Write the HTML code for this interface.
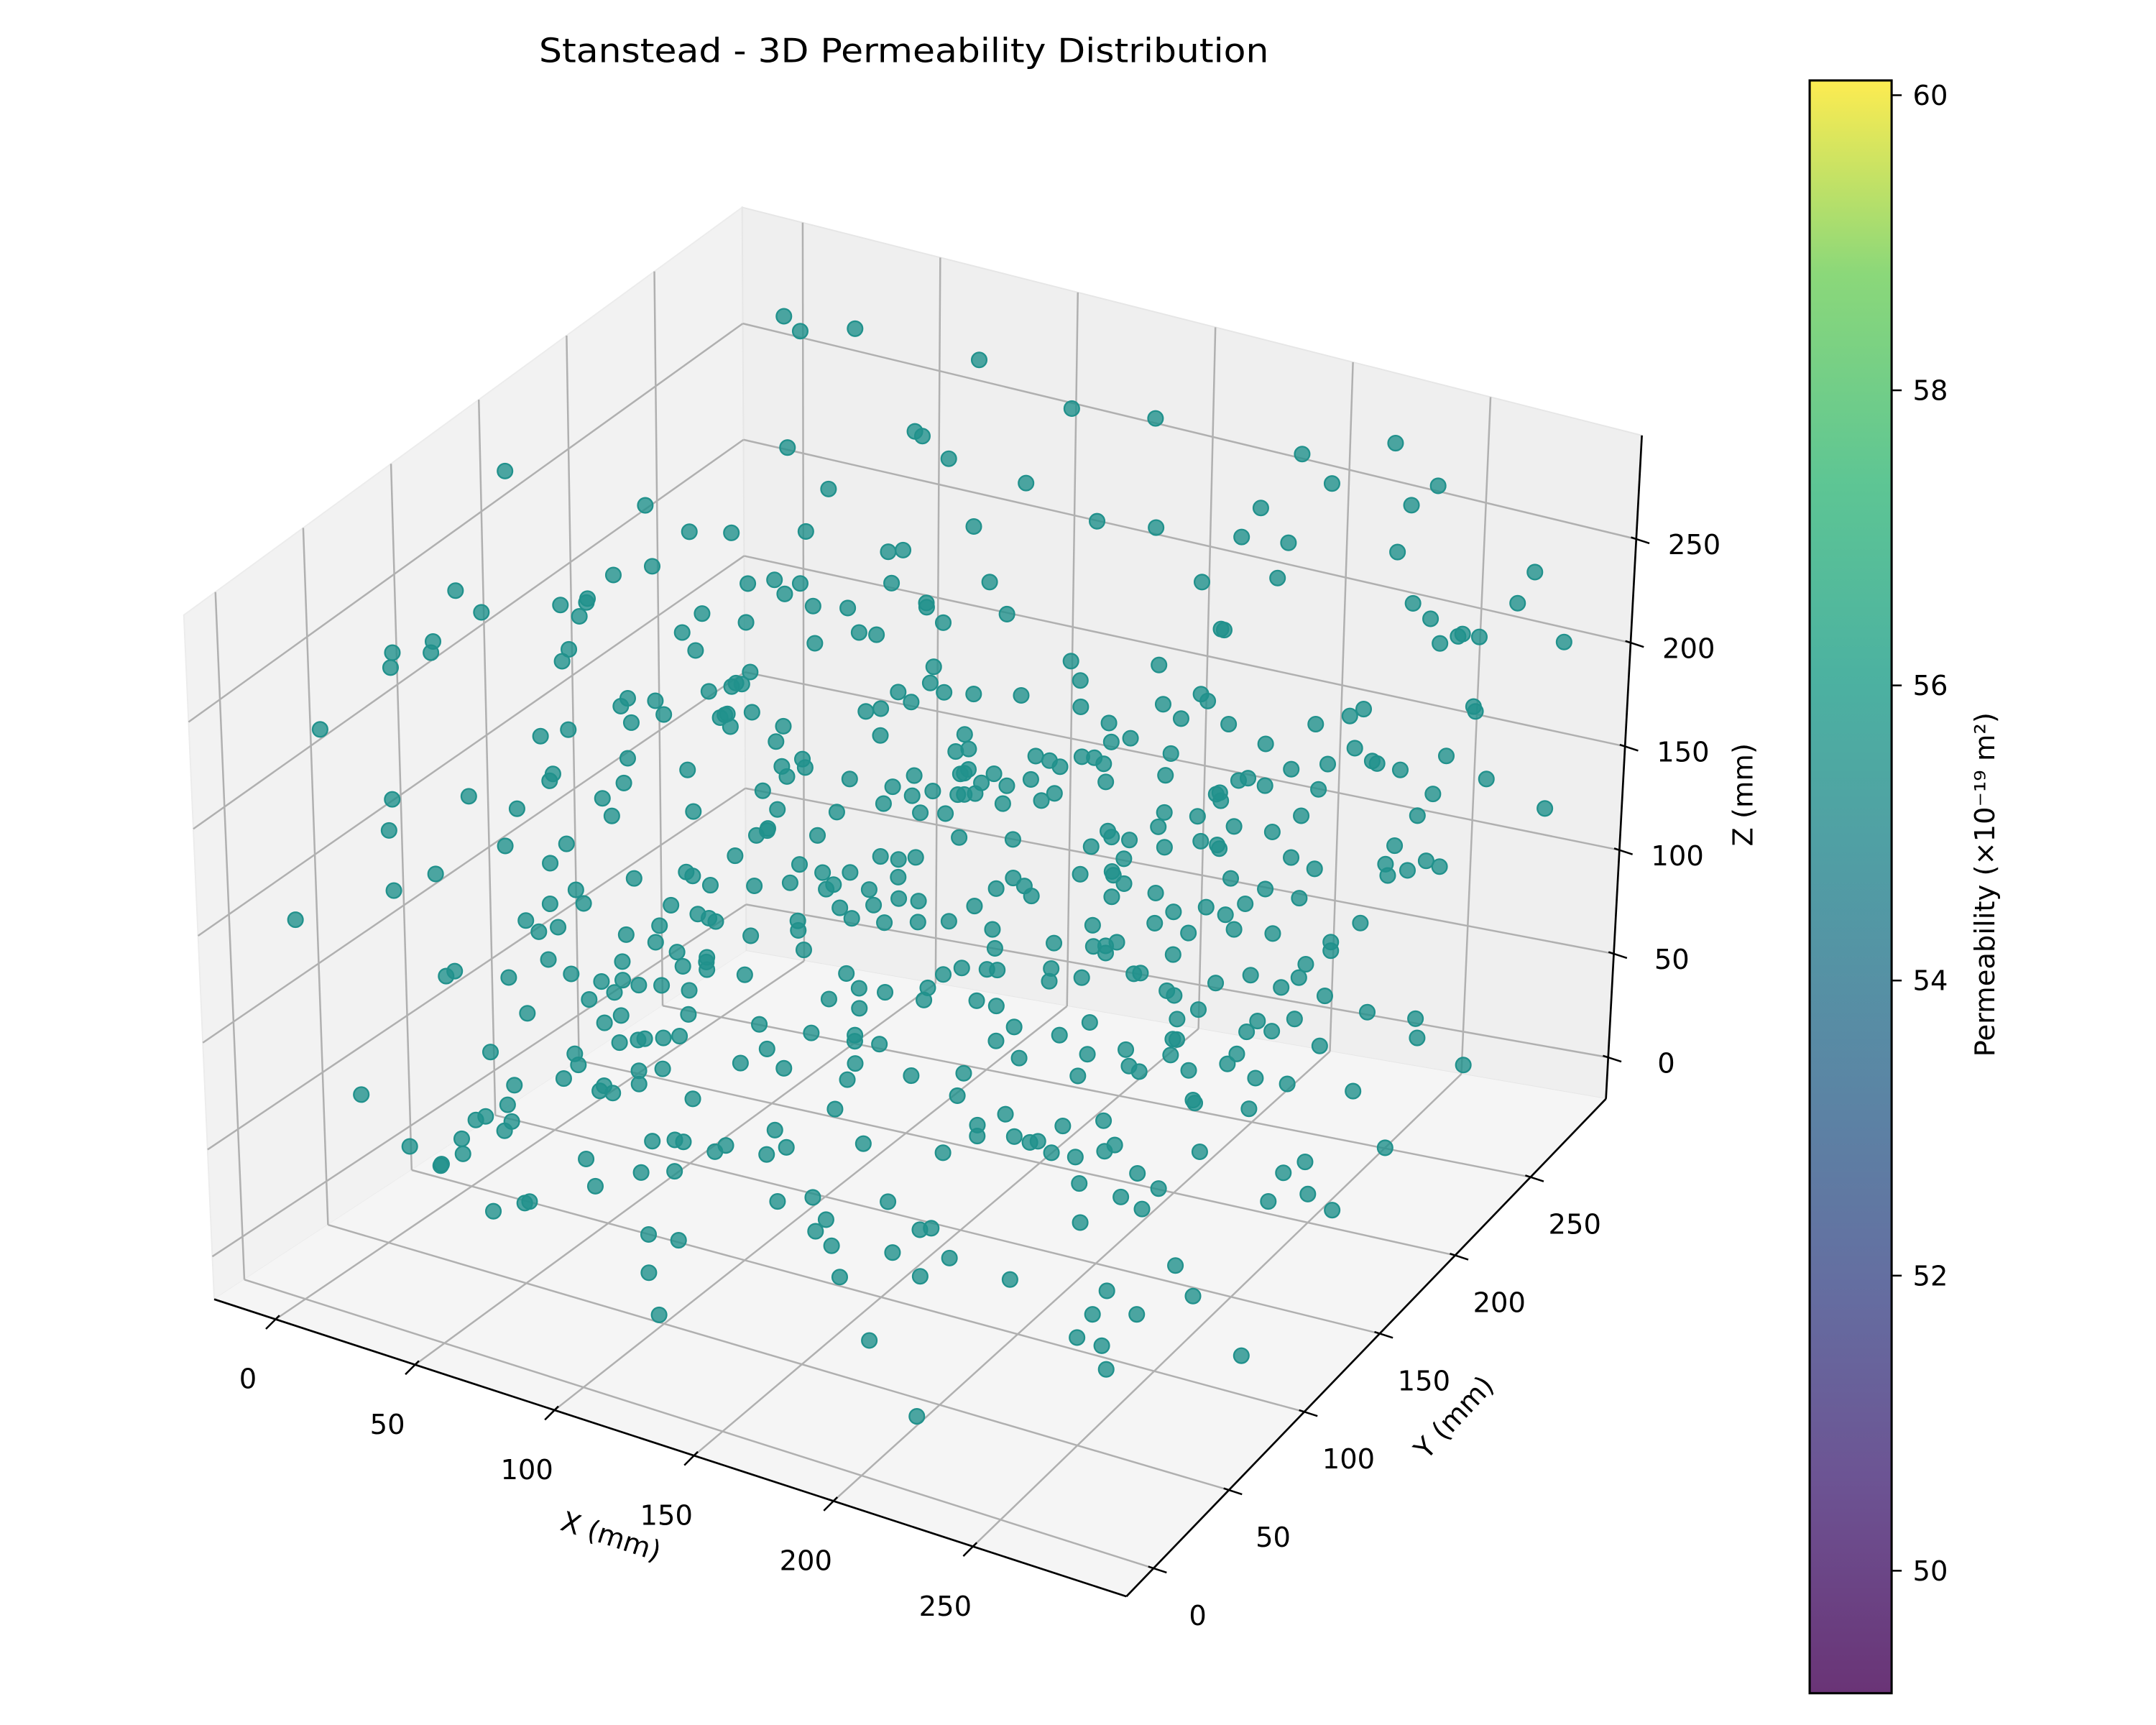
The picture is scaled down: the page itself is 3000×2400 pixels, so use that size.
<!DOCTYPE html>
<html><head><meta charset="utf-8"><style>html,body{margin:0;padding:0;background:#fff}svg{display:block}</style></head>
<body>
<svg id="chart" xmlns="http://www.w3.org/2000/svg" width="3000" height="2400" viewBox="0 0 1560 1248" font-family="DejaVu Sans, Liberation Sans, sans-serif">
<defs>
<linearGradient id="viridis" x1="0" y1="1" x2="0" y2="0">
<stop offset="0" stop-color="#440154"/><stop offset="0.13" stop-color="#482878"/><stop offset="0.25" stop-color="#3e4989"/><stop offset="0.38" stop-color="#31688e"/><stop offset="0.5" stop-color="#26828e"/><stop offset="0.63" stop-color="#1f9e89"/><stop offset="0.75" stop-color="#35b779"/><stop offset="0.88" stop-color="#6ece58"/><stop offset="1" stop-color="#fde725"/>
</linearGradient>
</defs>
<rect width="1560" height="1248" fill="#fff"/>
<text x="654" y="45" font-size="24" text-anchor="middle" textLength="528" lengthAdjust="spacingAndGlyphs">Stanstead - 3D Permeability Distribution</text>
<g id="panes"></g><g id="grid"></g><g id="axes"></g><g id="points"></g>
<g id="colorbar">
<rect x="1309.4" y="58.2" width="59.3" height="1166.8" fill="url(#viridis)" fill-opacity="0.8" stroke="#000" stroke-width="1.6"/>
</g>
<text transform="translate(1443,640) rotate(-90)" font-size="20" text-anchor="middle">Permeability (×10⁻¹⁹ m²)</text>
</svg>
<script>
const xValues = [12,45,88,130,170,210,250,275,30,65,105,145,190,230,268,8,52,95,140,182,225,260,285,20,75,118,160,205,240,280,40,85,125,165,200,245,270,15,60,100,
150,195,235,278,25,70,110,155,215,255,5,48,92,135,178,220,262,288,35,80,122,168,208,248,272,18,58,98,142,188,228,266,42,82,128,172,212,252,282,10,
55,102,148,192,238,276,28,68,112,158,198,242,286,38,78,120,162,202,246,270,22,62,108,152,196,236,274,2,50,90,138,180,222,258,284,32,72,116,160,206,
244,268,14,54,96,144,186,226,264,44,86,132,174,216,256,280,6,46,94,136,176,218,254,290,26,66,106,146,194,232,272,36,76,114,156,204,240,278,16,56,
100,140,184,224,262,288,34,74,118,166,210,250,284,4,64,104,154,190,234,276,24,84,124,170,214,252,282,12,52,90,134,180,220,260,286,40,80,126,164,200,
7,133,261,58,190,99,247,16,174,82,219,141,38,286,113,201,69,155,229,27,
264,91,178,3,122,243,47,160,209,74,288,136,19,196,104,253,61,168,233,11,
147,84,272,33,187,119,215,56,279,97,163,241,22,129,206,71,254,43,181,109,
268,14,151,224,88,197,36,283,126,62,238,173,9,101,259,49,213,137,78,191,
244,29,166,117,274,53,203,142,6,231,93,185,67,257,124,18,199,81,236,154,
41,289,112,177,63,221,1,148,266,86,193,31,249,132,73,211,158,24,281,107,
171,57,234,96,13,202,139,262,45,184,118,76,227,160,34,271,92,189,128,4,
246,68,217,143,26,277,103,164,52,239,87,197,131,17,256,79,208,150,37,285,
115,183,60,223,99,10,269,145,48,194,127,241,70,178,21,258,113,161,39,230,
84,205,137,3,275,94,187,55,248,121,167,30,214,72,263,106,152,8,236,179,
44,289,119,66,200,146,23,255,90,174,35,228,109,62,281,156,12,196,134,243,
77,169,50,221,100,16,265,141,83,207,28,250,125,59,186,233,97,5,273,157,
40,212,111,180,65,284,138,19,226,88,172,52,260,123,9,195,75,242,148,31,
279,104,163,46,218,131,14,253,93,188,58,235,116,25,270,154,82,209,38,287,
143,68,229,101,176,6,261,126,54,198,85,245,160,33,276,112,192,47,220,135];
const yValues = [140,22,260,95,180,35,210,120,270,60,155,5,230,85,195,45,250,110,15,175,
285,70,135,240,25,165,90,220,50,280,125,10,200,75,245,145,30,190,100,265,
55,170,215,40,130,255,80,185,20,235,105,160,65,290,145,0,205,115,250,38,
175,88,225,12,150,270,62,198,118,28,238,84,162,275,48,128,212,8,188,98,
258,34,142,222,72,182,18,248,108,158,42,278,92,208,132,26,168,242,58,118,
196,4,286,76,152,232,38,126,262,16,186,96,214,54,172,282,68,138,226,30,
246,112,178,6,204,82,266,46,148,228,102,190,24,256,66,164,218,14,136,274,
88,198,52,236,122,2,176,286,44,156,212,92,30,268,74,144,254,20,186,104,
232,58,164,10,278,128,206,40,96,248,150,6,220,116,66,182,264,34,140,242,
86,192,18,228,112,276,50,160,200,78,134,14,258,100,36,170,288,62,216,124,
244,17,163,88,272,129,54,205,9,181,236,73,148,283,36,197,115,258,61,170,
24,219,102,287,45,176,137,67,251,12,190,93,228,150,30,268,81,209,118,3,
263,140,57,226,107,15,184,71,247,130,40,210,162,95,279,20,152,233,78,199,
126,267,33,174,89,241,6,215,143,60,289,112,185,27,253,98,167,48,220,133,
76,201,11,277,156,39,230,105,171,64,249,14,192,124,282,55,213,87,160,29,
265,145,42,224,99,186,1,257,117,68,202,35,271,138,83,238,158,21,194,110,
51,275,128,8,216,92,179,246,63,153,284,31,204,121,70,260,166,44,229,97,
2,188,135,255,58,222,109,26,281,147,80,198,37,264,114,172,49,240,131,16,
206,86,274,157,33,218,100,66,252,123,7,189,291,75,167,43,237,139,19,211,
94,262,54,182,127,279,10,227,69,149,203,38,268,116,85,243,173,24,195,104,
60,285,134,13,234,91,178,47,256,119,195,5,220,73,166,286,41,207,125,262,
18,151,82,240,108,36,274,161,57,212,130,3,248,95,185,28,231,143,67,272,
110,196,23,259,137,76,215,52,287,99,169,11,238,121,190,46,276,82,155,217,
35,264,102,180,6,246,128,63,223,158,40,279,88,201,14,233,112,170,51,257,
141,77,225,29,198,117,266,55,183,9,249,134,72,215,163,21,284,96,176,43];
const zValues = [225,60,140,275,15,190,100,245,35,160,80,210,120,265,50,175,5,235,95,150,
280,30,200,70,255,130,10,185,110,240,45,165,90,270,25,215,135,55,195,75,
250,20,155,105,230,65,180,0,285,125,40,205,85,260,145,15,220,115,170,55,
240,95,30,195,135,275,70,180,10,225,150,45,210,90,265,120,35,185,160,245,
60,100,230,20,175,140,280,50,200,80,255,115,5,165,215,40,130,270,75,190,
25,235,145,95,210,60,170,290,35,120,250,85,185,15,225,140,65,260,100,180,
45,205,10,150,240,75,125,275,30,195,110,55,230,165,85,250,20,140,200,70,
285,115,40,175,220,90,145,5,260,60,190,125,235,30,105,215,155,270,50,180,
95,245,15,130,205,70,160,280,40,115,225,85,195,10,150,255,65,175,110,235,
25,140,200,55,265,95,170,45,215,130,280,80,15,185,120,250,35,160,70,225,
118,247,32,183,71,266,145,8,213,96,158,39,274,127,63,201,15,236,104,170,
52,283,139,21,192,88,256,121,44,229,163,3,210,75,269,135,57,181,100,247,
27,165,222,84,148,12,277,112,196,49,233,91,174,6,259,129,67,215,36,187,
151,282,98,23,206,143,62,251,117,180,11,238,77,160,292,41,198,132,3,219,
109,55,264,144,31,188,83,242,19,176,123,268,58,207,97,153,14,230,178,69,
286,36,121,201,8,256,156,92,225,48,136,271,17,184,106,243,64,167,28,213,
150,87,263,122,46,195,2,235,137,78,212,164,38,279,103,187,58,221,131,13,
245,99,170,66,284,142,24,203,115,254,42,183,81,227,7,159,272,107,53,196,
134,18,239,86,168,61,252,120,34,208,147,74,266,177,4,225,111,190,47,283,
155,96,217,26,172,130,59,241,12,197,82,274,138,35,186,119,248,65,161,229,
9,206,143,77,261,104,37,177,218,55,151,289,124,16,234,87,193,45,262,112,
170,28,215,96,146,258,6,189,127,71,239,162,33,281,101,205,57,142,221,14,
253,118,41,196,85,270,153,22,228,109,175,62,247,136,3,211,92,278,48,180,
125,237,14,164,74,290,116,43,204,150,26,258,89,191,131,60,226,171,8,243,
94,185,52,276,138,19,213,106,166,35,251,122,71,199,144,25,265,83,232,157];
const xTicks = [0,50,100,150,200,250];
const yTicks = [0,50,100,150,200,250];
const zTicks = [0,50,100,150,200,250];
const cbTicks = [50,52,54,56,58,60];

const NS='http://www.w3.org/2000/svg';
const XR=[-22,305], YR=[-18,300], ZR=[-20,300];
const C000=[155,940], C100=[815,1155], C110=[1162,795], C010=[540,688];
const C001=[133,445], C101=[818,640], C111=[1188,315], C011=[537,150];
function lerp(a,b,t){return [a[0]+(b[0]-a[0])*t,a[1]+(b[1]-a[1])*t];}
function proj(x,y,z){
  const u=(x-XR[0])/(XR[1]-XR[0]), v=(y-YR[0])/(YR[1]-YR[0]), w=(z-ZR[0])/(ZR[1]-ZR[0]);
  const b=lerp(lerp(C000,C100,u),lerp(C010,C110,u),v);
  const t=lerp(lerp(C001,C101,u),lerp(C011,C111,u),v);
  return lerp(b,t,w);
}
function mk(tag,attrs,parent){const e=document.createElementNS(NS,tag);for(const k in attrs)e.setAttribute(k,attrs[k]);parent.appendChild(e);return e;}
function line(p,q,stroke,sw,parent){return mk('line',{x1:p[0],y1:p[1],x2:q[0],y2:q[1],stroke:stroke,'stroke-width':sw},parent);}
function poly(pts){return pts.map(p=>p.join(',')).join(' ');}

const panes=document.getElementById('panes');
let e;
e=mk('polygon',{points:poly([proj(XR[0],YR[0],ZR[0]),proj(XR[0],YR[1],ZR[0]),proj(XR[0],YR[1],ZR[1]),proj(XR[0],YR[0],ZR[1])]),fill:'#f2f2f2',stroke:'#ececec','stroke-width':1},panes);


e=mk('polygon',{points:poly([proj(XR[0],YR[1],ZR[0]),proj(XR[1],YR[1],ZR[0]),proj(XR[1],YR[1],ZR[1]),proj(XR[0],YR[1],ZR[1])]),fill:'#efefef',stroke:'#e6e6e6','stroke-width':1},panes);


e=mk('polygon',{points:poly([proj(XR[0],YR[0],ZR[0]),proj(XR[1],YR[0],ZR[0]),proj(XR[1],YR[1],ZR[0]),proj(XR[0],YR[1],ZR[0])]),fill:'#f5f5f5',stroke:'none'},panes);



const grid=document.getElementById('grid');
const GC='#b0b0b0';
xTicks.forEach(t=>{
  e=line(proj(t,YR[0],ZR[0]),proj(t,YR[1],ZR[0]),GC,1.3,grid);
  
  
  e=line(proj(t,YR[1],ZR[0]),proj(t,YR[1],ZR[1]),GC,1.3,grid);
  
  
});
yTicks.forEach(t=>{
  e=line(proj(XR[0],t,ZR[0]),proj(XR[1],t,ZR[0]),GC,1.3,grid);
  
  
  e=line(proj(XR[0],t,ZR[0]),proj(XR[0],t,ZR[1]),GC,1.3,grid);
  
  
});
zTicks.forEach(t=>{
  e=line(proj(XR[0],YR[0],t),proj(XR[0],YR[1],t),GC,1.3,grid);
  
  
  e=line(proj(XR[0],YR[1],t),proj(XR[1],YR[1],t),GC,1.3,grid);
  
  
});

const axes=document.getElementById('axes');
e=line(proj(XR[0],YR[0],ZR[0]),proj(XR[1],YR[0],ZR[0]),'#000',1.4,axes);


e=line(proj(XR[1],YR[0],ZR[0]),proj(XR[1],YR[1],ZR[0]),'#000',1.4,axes);


e=line(proj(XR[1],YR[1],ZR[0]),proj(XR[1],YR[1],ZR[1]),'#000',1.4,axes);


function unit(a,b){const dx=b[0]-a[0],dy=b[1]-a[1],l=Math.hypot(dx,dy);return [dx/l,dy/l];}
function addTicks(vals,ptFn,dir,lblOff,name){
  vals.forEach(t=>{
    const p=ptFn(t);
    e=line([p[0]-dir[0]*4,p[1]-dir[1]*4],[p[0]+dir[0]*10,p[1]+dir[1]*10],'#000',1.3,axes);
    
    
    e=mk('text',{x:p[0]+lblOff[0],y:p[1]+lblOff[1]+7,'font-size':20,'text-anchor':'middle'},axes);
    e.textContent=t;
    
    
  });
}
const xdir=unit(proj(XR[0],YR[0],ZR[0]),proj(XR[1],YR[0],ZR[0]));
addTicks(xTicks,t=>proj(t,YR[0],ZR[0]),[-0.7,0.7],[-20,43],'x');
addTicks(yTicks,t=>proj(XR[1],t,ZR[0]),xdir,[32,34],'y');
addTicks(zTicks,t=>proj(XR[1],YR[1],t),xdir,[42,4],'z');

e=mk('text',{transform:'translate(440,1118) rotate(18)','font-size':20,'text-anchor':'middle'},axes);
e.textContent='X (mm)';


e=mk('text',{transform:'translate(1057,1030) rotate(-47)','font-size':20,'text-anchor':'middle'},axes);
e.textContent='Y (mm)';


e=mk('text',{transform:'translate(1268,575) rotate(-90)','font-size':20,'text-anchor':'middle'},axes);
e.textContent='Z (mm)';



const pts=document.getElementById('points');
const order=xValues.map((_,i)=>i).sort((a,b)=>(yValues[b]-xValues[b])-(yValues[a]-xValues[a]));
order.forEach(i=>{
  const p=proj(xValues[i],yValues[i],zValues[i]);
  const c=mk('circle',{cx:p[0].toFixed(1),cy:p[1].toFixed(1),r:5.4,fill:'#21918c','fill-opacity':0.8,stroke:'#21918c','stroke-width':1.2},pts);
  
  
});

const cb=document.getElementById('colorbar');
const CB_TOP=58.2, CB_BOT=1225, CB_MAX=60.1, CB_MIN=49.17;
function cbY(v){return CB_BOT-(v-CB_MIN)/(CB_MAX-CB_MIN)*(CB_BOT-CB_TOP);}
cbTicks.forEach(v=>{
  const y=cbY(v);
  e=line([1368.7,y],[1376,y],'#000',1.3,cb);
  
  
  e=mk('text',{x:1384,y:y+7,'font-size':20},cb);
  e.textContent=v;
  
  
});
</script>
</body></html>
